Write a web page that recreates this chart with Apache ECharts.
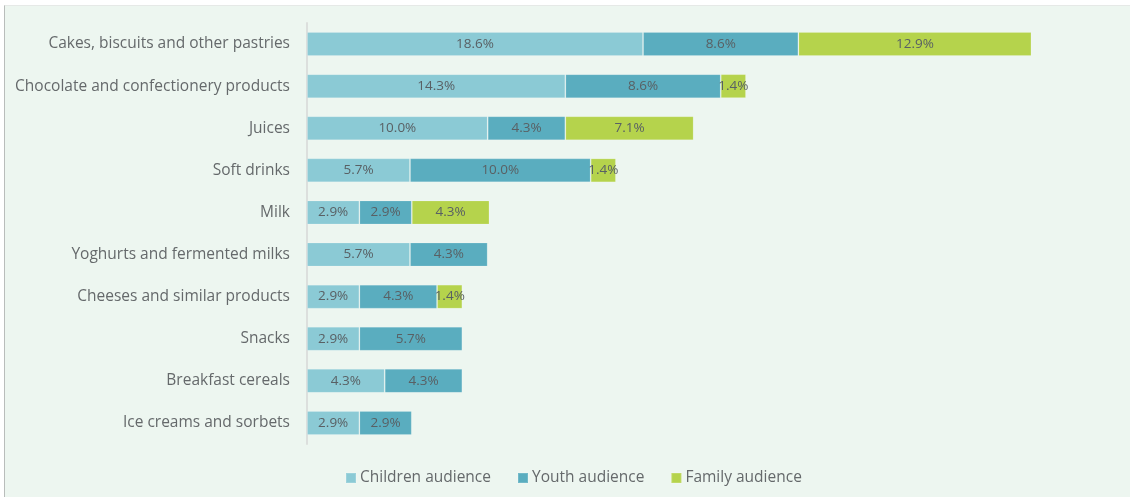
<!DOCTYPE html>
<html>
<head>
<meta charset="utf-8">
<script src="https://cdn.jsdelivr.net/npm/echarts@6/dist/echarts.min.js"></script>
<style>
  html, body { margin: 0; padding: 0; background: #ffffff; }
  #panel {
    position: absolute; left: 4px; top: 5px; width: 1126px; height: 492px;
    background: #edf6f0; border-left: 1px solid #b9bdbb; border-top: 1px solid #e6e9e7;
    box-sizing: border-box;
  }
  #chart { position: absolute; left: 0; top: 0; width: 1130px; height: 497px; }
</style>
</head>
<body>
<div id="panel"></div>
<div id="chart"></div>
<script>
// Food categories, listed top to bottom
const categories = [
  'Cakes, biscuits and other pastries',
  'Chocolate and confectionery products',
  'Juices',
  'Soft drinks',
  'Milk',
  'Yoghurts and fermented milks',
  'Cheeses and similar products',
  'Snacks',
  'Breakfast cereals',
  'Ice creams and sorbets'
];
const seriesNames = ['Children audience', 'Youth audience', 'Family audience'];
// Share of products (%) by target audience
const children = [18.6, 14.3, 10.0, 5.7, 2.9, 5.7, 2.9, 2.9, 4.3, 2.9];
const youth    = [8.6, 8.6, 4.3, 10.0, 2.9, 4.3, 4.3, 5.7, 4.3, 2.9];
const family   = [12.9, 1.4, 7.1, 1.4, 4.3, null, 1.4, null, null, null];

const colors = ['#8bcad5', '#5aadbf', '#b5d34c'];
const font = "'Open Sans', 'Noto Sans', sans-serif";

function makeSeries(name, data, color) {
  return {
    name: name,
    type: 'bar',
    stack: 'total',
    data: data,
    barWidth: 24,
    itemStyle: { color: color, borderColor: 'rgba(255,255,255,0.15)', borderWidth: 1 },
    label: {
      show: true,
      position: 'inside',
      formatter: p => p.value == null ? '' : p.value.toFixed(1) + '%',
      color: '#596064',
      fontFamily: font,
      fontSize: 13.5
    }
  };
}

const chart = echarts.init(document.getElementById('chart'), null, { renderer: 'canvas' });
chart.setOption({
  backgroundColor: 'transparent',
  animation: false,
  textStyle: { fontFamily: font },
  grid: { left: 307, right: 10, top: 23, bottom: 53, containLabel: false },
  xAxis: {
    type: 'value', min: 0, max: 45,
    show: false
  },
  yAxis: {
    type: 'category',
    data: categories,
    inverse: true,
    axisLine: { show: true, lineStyle: { color: '#dcdfdd', width: 2 } },
    axisTick: { show: false },
    axisLabel: { color: '#65696b', fontSize: 15.5, fontFamily: font, margin: 17 }
  },
  legend: {
    bottom: 6,
    left: 340,
    itemWidth: 10,
    itemHeight: 10,
    itemGap: 26,
    icon: 'rect',
    textStyle: { color: '#65696b', fontSize: 15.5, fontFamily: font, padding: [0, 0, 0, -1] },
    data: seriesNames
  },
  series: [
    makeSeries(seriesNames[0], children, colors[0]),
    makeSeries(seriesNames[1], youth, colors[1]),
    makeSeries(seriesNames[2], family, colors[2])
  ]
});
</script>
</body>
</html>
